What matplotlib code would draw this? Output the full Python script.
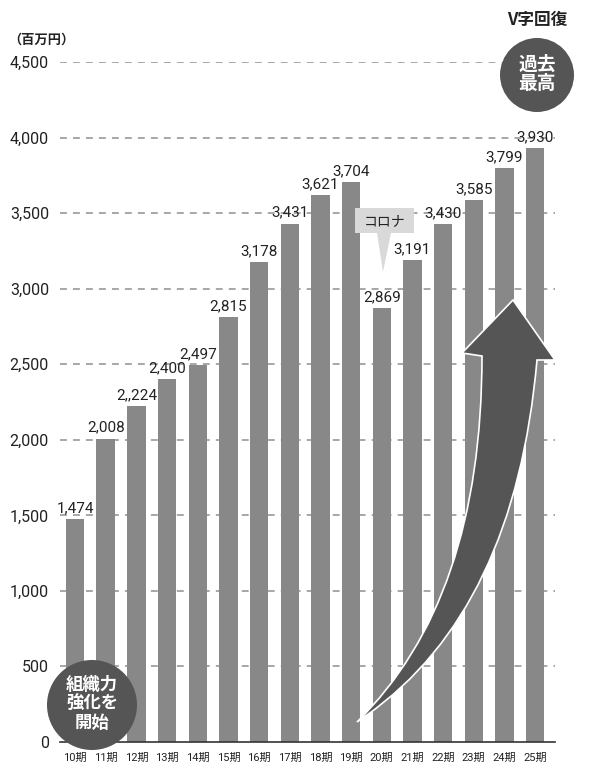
import matplotlib
matplotlib.use("Agg")
import matplotlib.pyplot as plt
from matplotlib.patches import Circle, Polygon, PathPatch
from matplotlib.path import Path

plt.rcParams['font.family'] = ['Roboto', 'Noto Sans CJK JP', 'DejaVu Sans']

# データ
periods = ['10期', '11期', '12期', '13期', '14期', '15期', '16期', '17期',
           '18期', '19期', '20期', '21期', '22期', '23期', '24期', '25期']
sales = [1474, 2008, 2224, 2400, 2497, 2815, 3178, 3431,
         3621, 3704, 2869, 3191, 3430, 3585, 3799, 3930]
value_labels = [f'{v:,}' for v in sales]
value_labels[2] = '2,,224'  # 元図の表記のまま
yticks = [0, 500, 1000, 1500, 2000, 2500, 3000, 3500, 4000, 4500]

W, H = 590, 783
fig = plt.figure(figsize=(W / 100, H / 100), dpi=100)
ax = fig.add_axes([60 / W, (H - 742) / H, (555 - 60) / W, (742 - 62) / H])

x = list(range(len(sales)))
ax.bar(x, sales, width=0.6, color='#888888', zorder=2)
for i, v in enumerate(sales):
    ax.text(i, v + 25, value_labels[i], ha='center', va='bottom',
            fontsize=11, color='#222222', zorder=3)

for t in yticks[1:]:
    ax.axhline(t, color='#8f8f8f', lw=1.1, ls=(0, (4.5, 4)), zorder=1)

ax.set_xlim(-0.49, 15.65)
ax.set_ylim(0, 4500)
ax.set_yticks(yticks)
ax.set_yticklabels([f'{t:,}' for t in yticks], fontsize=11.5, color='#222222')
ax.set_xticks(x)
ax.set_xticklabels(periods, fontsize=8, color='#222222')
ax.tick_params(axis='y', length=0, pad=8)
ax.tick_params(axis='x', length=0, pad=8)
for s in ['top', 'right', 'left']:
    ax.spines[s].set_visible(False)
ax.spines['bottom'].set_color('#333333')
ax.spines['bottom'].set_linewidth(1.2)


# 以下は図上の装飾（ピクセル座標 -> インチ座標）
def px(xp, yp):
    return (xp / 100, (H - yp) / 100)


tr = fig.dpi_scale_trans

fig.text(*px(8, 40), '（百万円）', transform=tr, fontsize=9.5, fontweight='bold',
         va='center', ha='left', color='#222222', family=['Noto Sans CJK JP'])

# 曲線の矢印
verts = [px(357, 722), px(482, 600), px(482, 356),
         px(462, 353), px(513, 300), px(555, 360), px(537, 360),
         px(515, 610), px(367, 715), px(357, 722)]
codes = [Path.MOVETO, Path.CURVE3, Path.CURVE3,
         Path.LINETO, Path.LINETO, Path.LINETO, Path.LINETO,
         Path.CURVE3, Path.CURVE3, Path.CLOSEPOLY]
fig.patches.append(PathPatch(Path(verts, codes), transform=tr, facecolor='#555555',
                             edgecolor='white', lw=1.2, zorder=5))

# コロナ吹き出し
fig.patches.append(Polygon([px(355, 208), px(414, 208), px(414, 233), px(391, 233),
                            px(383, 272), px(377, 233), px(355, 233)],
                           closed=True, transform=tr, facecolor='#d9d9d9',
                           edgecolor='none', zorder=5))
fig.text(*px(385, 221), 'コロナ', transform=tr, fontsize=10, ha='center', va='center',
         color='#222222', family=['Noto Sans CJK JP'], zorder=6)

# 円の注記
fig.patches.append(Circle(px(92, 705), 0.45, transform=tr, facecolor='#555555',
                          edgecolor='none', zorder=5))
fig.text(*px(92, 704), '組織力\n強化を\n開始', transform=tr, fontsize=12.5,
         fontweight='bold', ha='center', va='center', color='white',
         linespacing=1.05, family=['Noto Sans CJK JP'], zorder=6)

fig.patches.append(Circle(px(537, 75), 0.37, transform=tr, facecolor='#555555',
                          edgecolor='none', zorder=5))
fig.text(*px(537, 74), '過去\n最高', transform=tr, fontsize=13.5,
         fontweight='bold', ha='center', va='center', color='white',
         linespacing=1.05, family=['Noto Sans CJK JP'], zorder=6)
fig.text(*px(537, 20), 'V字回復', transform=tr, fontsize=12, fontweight='bold',
         ha='center', va='center', color='#222222', family=['Noto Sans CJK JP'])

fig.savefig('out.png', dpi=100, facecolor='white')
